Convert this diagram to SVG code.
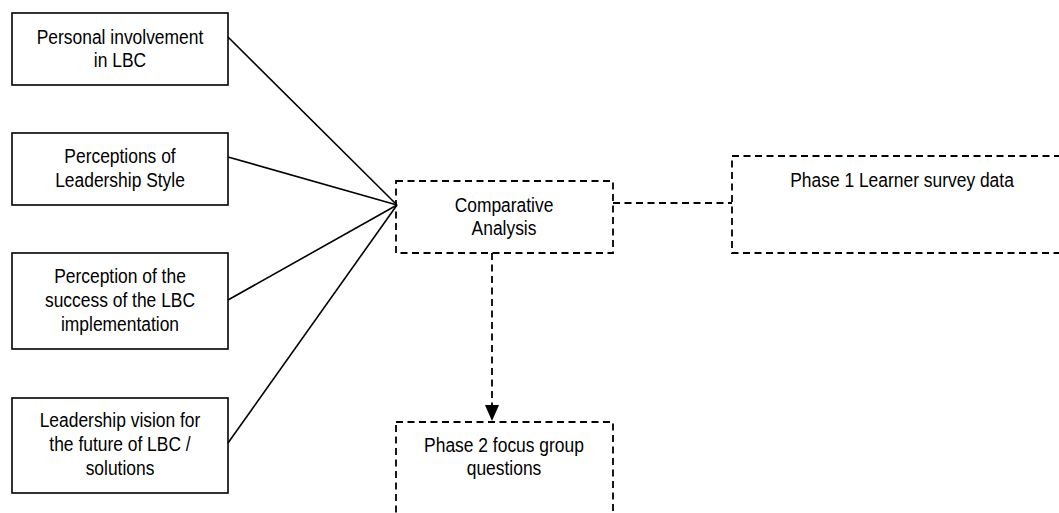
<svg xmlns="http://www.w3.org/2000/svg" width="1059" height="513" viewBox="0 0 1059 513">
  <style>
    .solid { fill: #fff; stroke: #000; stroke-width: 1.6; }
    .dash { fill: none; stroke: #000; stroke-width: 1.8; stroke-dasharray: 7 4.5; }
    .conn { fill: none; stroke: #000; stroke-width: 1.6; }
    text { font-family: "Liberation Sans", Arial, sans-serif; font-size: 21px; fill: #000; text-anchor: middle; }
  </style>
  <g id="connectors">
    <line class="conn" x1="228" y1="37" x2="397" y2="205"/>
    <line class="conn" x1="228" y1="157" x2="397" y2="205"/>
    <line class="conn" x1="228" y1="300" x2="397" y2="205"/>
    <line class="conn" x1="228" y1="443" x2="397" y2="205"/>
    <line class="dash" x1="613" y1="203" x2="732" y2="203"/>
    <line class="dash" x1="492" y1="253" x2="492" y2="405"/>
    <path d="M485,405 L499,405 L492,421 Z" fill="#000"/>
  </g>
  <g id="node-personal">
    <rect class="solid" x="12" y="13" width="216" height="72"/>
    <text transform="translate(120,44) scale(0.83,1)">Personal involvement</text>
    <text transform="translate(120,67) scale(0.83,1)">in LBC</text>
  </g>
  <g id="node-style">
    <rect class="solid" x="12" y="133" width="216" height="72"/>
    <text transform="translate(120,163) scale(0.83,1)">Perceptions of</text>
    <text transform="translate(120,187) scale(0.83,1)">Leadership Style</text>
  </g>
  <g id="node-success">
    <rect class="solid" x="12" y="253" width="216" height="96"/>
    <text transform="translate(120,283) scale(0.83,1)">Perception of the</text>
    <text transform="translate(120,307) scale(0.83,1)">success of the LBC</text>
    <text transform="translate(120,331) scale(0.83,1)">implementation</text>
  </g>
  <g id="node-vision">
    <rect class="solid" x="12" y="398" width="216" height="95"/>
    <text transform="translate(120,427) scale(0.83,1)">Leadership vision for</text>
    <text transform="translate(120,451) scale(0.83,1)">the future of LBC /</text>
    <text transform="translate(120,475) scale(0.83,1)">solutions</text>
  </g>
  <g id="node-comparative">
    <rect class="dash" x="396" y="181" width="217" height="72"/>
    <text transform="translate(504,212) scale(0.83,1)">Comparative</text>
    <text transform="translate(504,235) scale(0.83,1)">Analysis</text>
  </g>
  <g id="node-phase1">
    <rect class="dash" x="732" y="156" width="340" height="97"/>
    <text transform="translate(902,187) scale(0.83,1)">Phase 1 Learner survey data</text>
  </g>
  <g id="node-phase2">
    <rect class="dash" x="396" y="422" width="217" height="110"/>
    <text transform="translate(504,452) scale(0.83,1)">Phase 2 focus group</text>
    <text transform="translate(504,475) scale(0.83,1)">questions</text>
  </g>
</svg>
